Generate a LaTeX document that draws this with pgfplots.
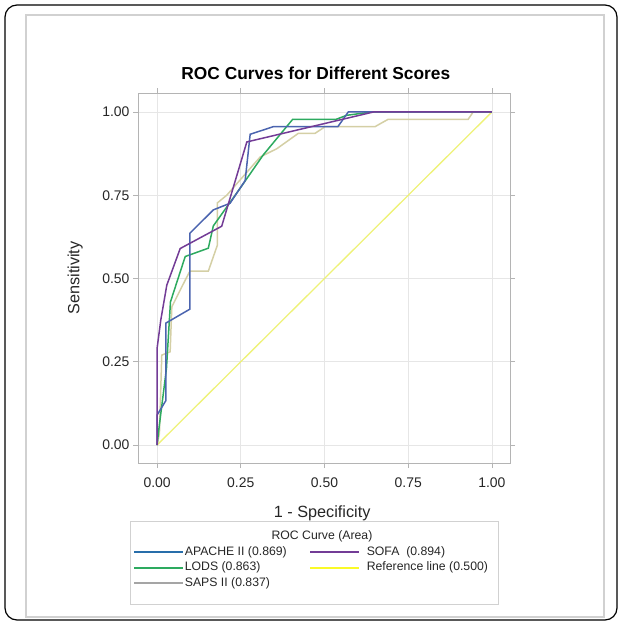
\documentclass[border=0pt]{standalone}
\usepackage{fontspec}
\setmainfont{Liberation Sans}
\usepackage{pgfplots}
\pgfplotsset{compat=1.18}
\definecolor{apache}{RGB}{75,100,175}
\definecolor{apacheL}{RGB}{40,110,170}
\definecolor{sofa}{RGB}{115,60,150}
\definecolor{lods}{RGB}{45,170,95}
\definecolor{refl}{RGB}{238,242,120}
\definecolor{refL}{RGB}{250,250,40}
\definecolor{saps}{RGB}{212,207,165}
\definecolor{sapsL}{RGB}{165,165,165}
\definecolor{gridc}{RGB}{230,230,230}
\definecolor{axc}{RGB}{180,180,180}
\begin{document}
\begin{tikzpicture}
\path[use as bounding box] (0bp,0bp) rectangle (622bp,-624bp);
\draw[black, line width=1.2bp, rounded corners=12bp] (5bp,-5bp) rectangle (617bp,-620bp);
\draw[black!18, line width=1.2bp] (26bp,-15bp) rectangle (604bp,-617bp);
\draw[black!18, line width=1bp, fill=white] (130bp,-521bp) rectangle (498bp,-604bp);
\node[font=\fontsize{12.3}{14}\selectfont, text=black!85] at (322bp,-536bp) {ROC Curve (Area)};
\begin{axis}[
  at={(138bp,-463bp)}, anchor=south west,
  scale only axis, width=372bp, height=370bp,
  xmin=-0.057, xmax=1.054, ymin=-0.054, ymax=1.057,
  xtick={0,0.25,0.5,0.75,1}, ytick={0,0.25,0.5,0.75,1},
  /pgf/number format/assume math mode=true,
  xticklabel style={/pgf/number format/.cd, fixed, fixed zerofill, precision=2, /tikz/.cd, yshift=-6bp},
  yticklabel style={/pgf/number format/.cd, fixed, fixed zerofill, precision=2},
  ticklabel style={font=\fontsize{14}{16}\selectfont, text=black!85},
  tick align=outside, major tick length=5bp,
  tick style={axc, line width=0.8bp},
  axis line style={axc, line width=1bp},
  grid=major, grid style={gridc, line width=0.8bp},
  title={ROC Curves for Different Scores},
  title style={font=\bfseries\fontsize{17.4}{20}\selectfont, at={(0.478,1)}, anchor=south, yshift=4bp},
  xlabel={1 - Specificity}, ylabel={Sensitivity},
  label style={font=\fontsize{16.3}{18}\selectfont, text=black!85},
  xlabel style={at={(axis description cs:0.495,-0.135)}, anchor=center},
  ylabel style={at={(axis description cs:-0.169,0.5)}, anchor=center},
  legend columns=2,
  legend style={at={(-0.013,-0.223)}, anchor=north west, draw=none, fill=none,
    font=\fontsize{12.3}{14}\selectfont, text=black!85,
    row sep=2.5bp, inner sep=0pt,
    nodes={inner sep=0.5bp, anchor=west, text height=9bp, text depth=3bp},
    /tikz/every even column/.append style={column sep=22bp}},
  legend image code/.code={\draw[#1, line width=2bp] (0bp,0bp) -- (49bp,0bp);},
]
\addplot[refl, line width=1.3bp, forget plot] coordinates {(0,0) (1,1)};
\addplot[saps, line width=1.5bp, forget plot] coordinates {
(0,0) (0.007,0.035) (0.014,0.27) (0.039,0.28) (0.044,0.415) (0.084,0.495) (0.098,0.522) (0.153,0.522) (0.18,0.6) (0.18,0.727) (0.208,0.75) (0.308,0.865) (0.358,0.89) (0.422,0.936) (0.472,0.936) (0.502,0.956) (0.651,0.956) (0.69,0.978) (0.929,0.978) (0.944,1) (1,1)};
\addplot[lods, line width=1.5bp, forget plot] coordinates {
(0,0) (0.005,0.045) (0.028,0.23) (0.04,0.43) (0.084,0.566) (0.153,0.591) (0.168,0.658) (0.248,0.771) (0.317,0.871) (0.405,0.978) (0.535,0.978) (0.566,0.99) (0.641,1) (1,1)};
\addplot[apache, line width=1.5bp, forget plot] coordinates {
(0,0) (0,0.09) (0.026,0.133) (0.026,0.366) (0.098,0.408) (0.098,0.636) (0.168,0.706) (0.218,0.726) (0.263,0.794) (0.278,0.933) (0.347,0.956) (0.54,0.956) (0.571,1) (1,1)};
\addplot[sofa, line width=1.5bp, forget plot] coordinates {
(0,0) (0,0.29) (0.011,0.375) (0.029,0.48) (0.069,0.59) (0.193,0.657) (0.268,0.91) (0.293,0.916) (0.646,1) (1,1)};
\addlegendimage{apacheL}
\addlegendentry{APACHE II (0.869)}
\addlegendimage{sofa}
\addlegendentry{\hspace{6bp}SOFA\ \ (0.894)}
\addlegendimage{lods}
\addlegendentry{LODS (0.863)}
\addlegendimage{refL}
\addlegendentry{\hspace{6bp}Reference line (0.500)}
\addlegendimage{sapsL}
\addlegendentry{SAPS II (0.837)}
\end{axis}
\end{tikzpicture}
\end{document}
